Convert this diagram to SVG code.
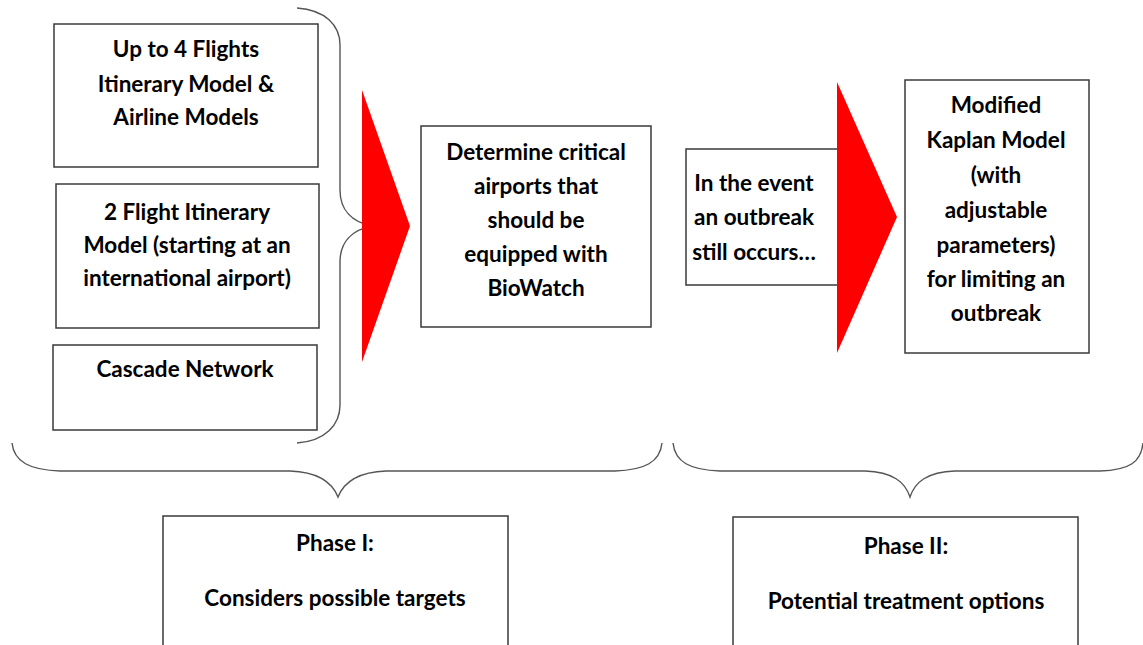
<svg xmlns="http://www.w3.org/2000/svg" width="1143" height="645" viewBox="0 0 1143 645">
<style>
.box{fill:#fff;stroke:#3a3a3a;stroke-width:1.5}
.brace{fill:none;stroke:#555;stroke-width:1.4}
.arrow{fill:#ff0000}
text{font-family:Lato,"Liberation Sans",sans-serif;font-weight:700;font-size:22.5px;fill:#000;text-anchor:middle}
</style>
<rect width="1143" height="645" fill="#fff"/>
<g id="connectors">
<path class="brace" d="M297,8 C325,10 340,25 340,45 L340,190 C340,210 352,222 372,226 C352,230 340,242 340,262 L340,405 C340,425 325,441 297,443"/>
<path class="brace" d="M12,443 C14,462 30,470 60,471 L290,471 C318,472 332,482 338,497 C344,482 358,472 386,471 L615,471 C645,470 660,462 662,443"/>
<path class="brace" d="M673,443 C675,462 690,470 720,471 L865,471 C893,472 905,482 910,497 C915,482 927,472 955,471 L1100,471 C1130,470 1141,462 1143,443"/>
</g>
<g id="n1"><rect class="box" x="54" y="24" width="264" height="143"/>
<text x="186" y="57">Up to 4 Flights</text><text x="186" y="92">Itinerary Model &amp;</text><text x="186" y="125">Airline Models</text></g>
<g id="n2"><rect class="box" x="56" y="184" width="263" height="144"/>
<text x="187" y="220">2 Flight Itinerary</text><text x="187" y="253">Model (starting at an</text><text x="187" y="286">international airport)</text></g>
<g id="n3"><rect class="box" x="53" y="345" width="264" height="85"/>
<text x="185" y="377">Cascade Network</text></g>
<g id="arrow1"><polygon class="arrow" points="362,90 410,226 362,362"/></g>
<g id="n4"><rect class="box" x="421" y="126" width="230" height="201"/>
<text x="536" y="160">Determine critical</text><text x="536" y="194">airports that</text><text x="536" y="228">should be</text><text x="536" y="262">equipped with</text><text x="536" y="296">BioWatch</text></g>
<g id="n5"><rect class="box" x="686" y="149" width="170" height="136"/>
<text x="754" y="191">In the event</text><text x="754" y="225">an outbreak</text><text x="754" y="260">still occurs…</text></g>
<g id="arrow2"><polygon class="arrow" points="837,82 897,217 837,353"/></g>
<g id="n6"><rect class="box" x="905" y="80" width="184" height="273"/>
<text x="996" y="113">Modified</text><text x="996" y="148">Kaplan Model</text><text x="996" y="183">(with</text><text x="996" y="218">adjustable</text><text x="996" y="253">parameters)</text><text x="996" y="287">for limiting an</text><text x="996" y="321">outbreak</text></g>
<g id="phase1"><rect class="box" x="163" y="516" width="345" height="140"/>
<text x="335" y="551">Phase I:</text><text x="335" y="606">Considers possible targets</text></g>
<g id="phase2"><rect class="box" x="733" y="517" width="345" height="140"/>
<text x="906" y="554">Phase II:</text><text x="906" y="609">Potential treatment options</text></g>
</svg>
